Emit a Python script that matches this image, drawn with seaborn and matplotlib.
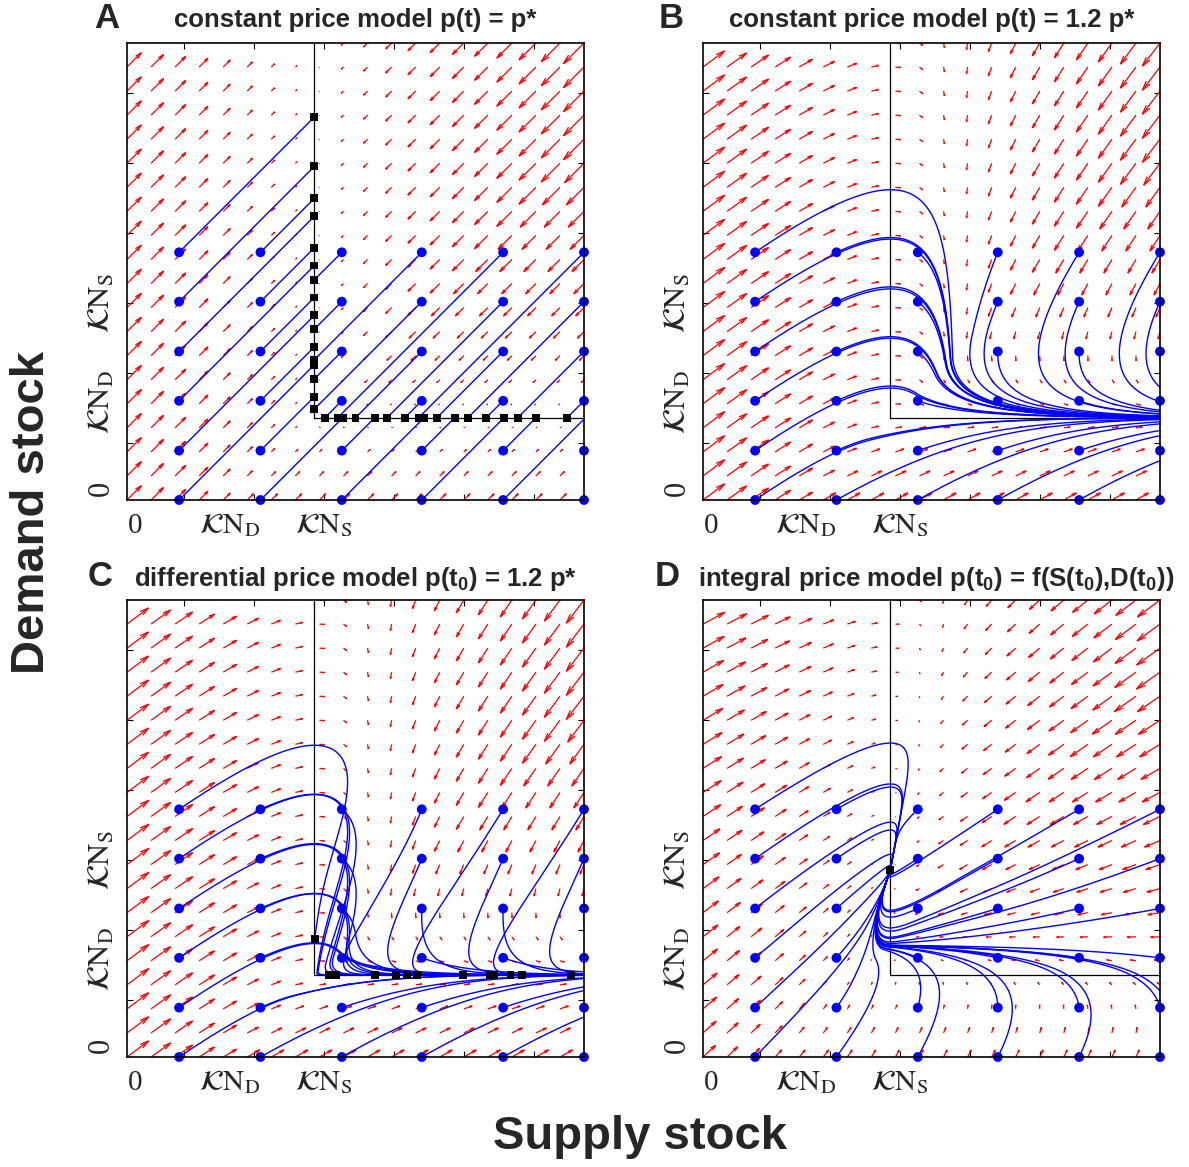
import numpy as np
import pandas as pd
import matplotlib
matplotlib.use("Agg")
import matplotlib.pyplot as plt
from matplotlib.collections import LineCollection
import seaborn as sns

# ------------------------------------------------------------------ data
# axis units run from 0 to 1 on both stocks
KNS = 0.41            # kappa*N_S  (vertical capacity line, supply)
KND = 0.18            # kappa*N_D  (horizontal capacity line, demand)
start_S = [0.114, 0.292, 0.470, 0.645, 0.823, 1.000]   # initial supply stocks
start_D = [0.000, 0.108, 0.217, 0.325, 0.434, 0.542]   # initial demand stocks
tick_pos = [0.125, 0.278, 0.431, 0.584, 0.737, 0.890]
quiver_n = 20
k_rate = 1.0
alpha_B = 0.14        # supply surplus drift at p = 1.2 p*
alpha_C0 = 0.14       # initial drift of the differential model
gamma_C = 4.0         # price relaxation gain on the market side (differential model)
lambda_C = 0.12       # slow price relaxation towards p* (differential model)
b_eff_D = 0.245       # demand level reached under the integral price model
alphaD_S = [0.0, 0.41, 0.65, 1.0]
alphaD_D = [0.0, 0.18, 0.30, 0.41, 0.70, 1.0]
alphaD_grid = [[0.03, -0.11, -0.12, -0.13],
               [0.09, -0.07, -0.15, -0.20],
               [0.12, -0.04, -0.20, -0.36],
               [0.165, 0.00, -0.16, -0.32],
               [0.26, 0.08, -0.07, -0.27],
               [0.37, 0.16, 0.02, -0.20]]
sim_time = {"A": 20.0, "B": 40.0, "C": 30.0, "D": 60.0}
letters = ["A", "B", "C", "D"]
titles = ["constant price model p(t) = p*",
          "constant price model p(t) = 1.2 p*",
          r"differential price model p(t$_\mathbf{0}$) = 1.2 p*",
          r"integral price model p(t$_\mathbf{0}$) = f(S(t$_\mathbf{0}$),D(t$_\mathbf{0}$))"]
xtick_text = ["0", r"$\mathcal{K}\mathrm{N}_\mathrm{D}$", r"$\mathcal{K}\mathrm{N}_\mathrm{S}$"]
xtick_at = [0.017, 0.225, 0.43]
ytick_at = [0.025, 0.215, 0.43]

# ------------------------------------------------------------------ style
sns.set_theme(style="white")
plt.rcParams["font.family"] = ["Liberation Sans", "DejaVu Sans"]
plt.rcParams["mathtext.fontset"] = "custom"
plt.rcParams["mathtext.rm"] = "Liberation Sans"
plt.rcParams["mathtext.bf"] = "Liberation Sans:bold"
plt.rcParams["mathtext.it"] = "Liberation Sans:italic"

W, H = 1189, 1167
fig = plt.figure(figsize=(W / 100, H / 100), dpi=100)
fig.patch.set_facecolor("white")


def px(x, y):
    return x / W, 1 - y / H


boxes = {"A": (127, 43, 584, 500), "B": (703, 43, 1160, 500),
         "C": (127, 600, 584, 1057), "D": (703, 600, 1160, 1057)}
letter_xy = {"A": (107, 18), "B": (671, 18), "C": (100, 577), "D": (667, 577)}
title_xy = {"A": (355, 20), "B": (932, 20), "C": (355, 579), "D": (936, 579)}

Sg = np.array(alphaD_S)
Dg = np.array(alphaD_D)
Gd = np.array(alphaD_grid)


def alphaD(S, D):
    S = np.asarray(S, float)
    D = np.asarray(D, float)
    i = np.clip(np.searchsorted(Sg, S) - 1, 0, len(Sg) - 2)
    j = np.clip(np.searchsorted(Dg, D) - 1, 0, len(Dg) - 2)
    ts = np.clip((S - Sg[i]) / (Sg[i + 1] - Sg[i]), 0, 1)
    td = np.clip((D - Dg[j]) / (Dg[j + 1] - Dg[j]), 0, 1)
    return (Gd[j, i] * (1 - ts) * (1 - td) + Gd[j, i + 1] * ts * (1 - td)
            + Gd[j + 1, i] * (1 - ts) * td + Gd[j + 1, i + 1] * ts * td)


def rhs(model, S, D, A):
    if model == "D":
        m = np.minimum(S - KNS, D - b_eff_D)
        al = alphaD(S, D)
    else:
        m = np.minimum(S - KNS, D - KND)
        al = {"A": 0.0 * S, "B": alpha_B + 0.0 * S, "C": A}[model]
    dS = al - k_rate * m
    dD = -k_rate * m
    if model == "C":
        dA = -gamma_C * A * np.maximum(m, 0) - lambda_C * A
    else:
        dA = 0.0 * A
    return dS, dD, dA


def field(model, S, D):
    A = np.full_like(S, alpha_C0)
    dS, dD, _ = rhs(model, S, D, A)
    return dS, dD


def integrate(model, S0, D0, T, dt=0.01, every=3):
    S = np.array(S0, float)
    D = np.array(D0, float)
    A = np.full_like(S, alpha_C0)
    out = [(S.copy(), D.copy())]
    n = int(T / dt)
    for it in range(n):
        k1 = rhs(model, S, D, A)
        k2 = rhs(model, S + dt / 2 * k1[0], D + dt / 2 * k1[1], A + dt / 2 * k1[2])
        k3 = rhs(model, S + dt / 2 * k2[0], D + dt / 2 * k2[1], A + dt / 2 * k2[2])
        k4 = rhs(model, S + dt * k3[0], D + dt * k3[1], A + dt * k3[2])
        S = S + dt / 6 * (k1[0] + 2 * k2[0] + 2 * k3[0] + k4[0])
        D = D + dt / 6 * (k1[1] + 2 * k2[1] + 2 * k3[1] + k4[1])
        A = A + dt / 6 * (k1[2] + 2 * k2[2] + 2 * k3[2] + k4[2])
        if it % every == 0 or it == n - 1:
            out.append((S.copy(), D.copy()))
    Ss = np.array([o[0] for o in out])
    Ds = np.array([o[1] for o in out])
    return Ss, Ds


S0g, D0g = np.meshgrid(start_S, start_D)
S0f, D0f = S0g.ravel(), D0g.ravel()
gx = np.linspace(0, 1, quiver_n)
GX, GY = np.meshgrid(gx, gx)

for p, letter in enumerate(letters):
    l, t, r, b = boxes[letter]
    x0, y1 = px(l, t)
    x1, y0 = px(r, b)
    ax = fig.add_axes([x0, y0, x1 - x0, y1 - y0])
    ax.set_xlim(0, 1)
    ax.set_ylim(0, 1)

    # ---- vector field (MATLAB-style quiver arrows)
    U, V = field(letter, GX, GY)
    dl = 1.0 / quiver_n
    ln = np.sqrt((U ** 2 + V ** 2) / (2 * dl * dl))
    sc = 0.9 / ln.max()
    U, V = U * sc, V * sc
    X, Y = GX.ravel(), GY.ravel()
    U, V = U.ravel(), V.ravel()
    al, be = 0.33, 0.25
    tipx, tipy = X + U, Y + V
    segs = []
    for i in range(len(X)):
        segs.append([(X[i], Y[i]), (tipx[i], tipy[i])])
        segs.append([(tipx[i], tipy[i]),
                     (tipx[i] - al * (U[i] + be * V[i]), tipy[i] - al * (V[i] - be * U[i]))])
        segs.append([(tipx[i], tipy[i]),
                     (tipx[i] - al * (U[i] - be * V[i]), tipy[i] - al * (V[i] + be * U[i]))])
    ax.add_collection(LineCollection(segs, colors="red", linewidths=0.9, zorder=1))

    # ---- capacity L
    ax.plot([KNS, KNS], [KND, 1], color="black", lw=0.9, zorder=2)
    ax.plot([KNS, 1], [KND, KND], color="black", lw=0.9, zorder=2)

    # ---- trajectories
    Ss, Ds = integrate(letter, S0f, D0f, sim_time[letter])
    rows = []
    ends = []
    for j in range(Ss.shape[1]):
        s, d = Ss[:, j], Ds[:, j]
        outside = np.where((s > 1.03) | (d > 1.03) | (s < -0.03) | (d < -0.03))[0]
        cut = outside[0] + 1 if len(outside) else len(s)
        rows.append(pd.DataFrame({"S": s[:cut], "D": d[:cut], "traj": j}))
        if len(outside) == 0 and s[-1] <= 1.0:
            ends.append((s[-1], d[-1]))
    df = pd.concat(rows, ignore_index=True)
    sns.lineplot(data=df, x="S", y="D", units="traj", estimator=None, sort=False,
                 color="blue", linewidth=1.0, ax=ax, legend=False, zorder=3)
    sns.scatterplot(x=S0f, y=D0f, color="blue", s=50, edgecolor="none", ax=ax,
                    clip_on=False, zorder=5, legend=False)
    if ends:
        ends = np.array(ends)
        sns.scatterplot(x=ends[:, 0], y=ends[:, 1], marker="s", color="black", s=32,
                        edgecolor="none", ax=ax, clip_on=False, zorder=6, legend=False)

    ax.set_xlim(0, 1)
    ax.set_ylim(0, 1)
    ax.set_xlabel("")
    ax.set_ylabel("")
    ax.set_xticks(tick_pos)
    ax.set_yticks(tick_pos)
    ax.tick_params(direction="in", length=4, width=0.8, top=True, right=True,
                   bottom=True, left=True, labelbottom=False, labelleft=False,
                   color="black")
    for sp in ax.spines.values():
        sp.set_linewidth(1.2)
        sp.set_color("black")
        sp.set_zorder(7)

    # ---- custom tick labels
    for txt, xv in zip(xtick_text, xtick_at):
        ax.text(xv, -0.072, txt, transform=ax.transAxes, ha="center", va="baseline",
                fontsize=21, family="Liberation Serif", math_fontfamily="stix")
    for txt, yv in zip(xtick_text, ytick_at):
        ax.text(-0.055, yv, txt, transform=ax.transAxes, ha="center", va="center",
                rotation=90, fontsize=22, family="Liberation Serif", math_fontfamily="stix")

    lx, ly = px(*letter_xy[letter])
    fig.text(lx, ly, letter, fontsize=25, fontweight="bold", ha="center", va="center")
    tx, ty = px(*title_xy[letter])
    fig.text(tx, ty, titles[p], fontsize=18.5, fontweight="bold", ha="center", va="center")

fx, fy = px(32, 512)
fig.text(fx, fy, "Demand stock", rotation=90, fontsize=34, fontweight="bold",
         ha="center", va="center")
fx, fy = px(640, 1137)
fig.text(fx, fy, "Supply stock", fontsize=34, fontweight="bold", ha="center", va="center")

fig.savefig("out.png", dpi=100, facecolor="white")
